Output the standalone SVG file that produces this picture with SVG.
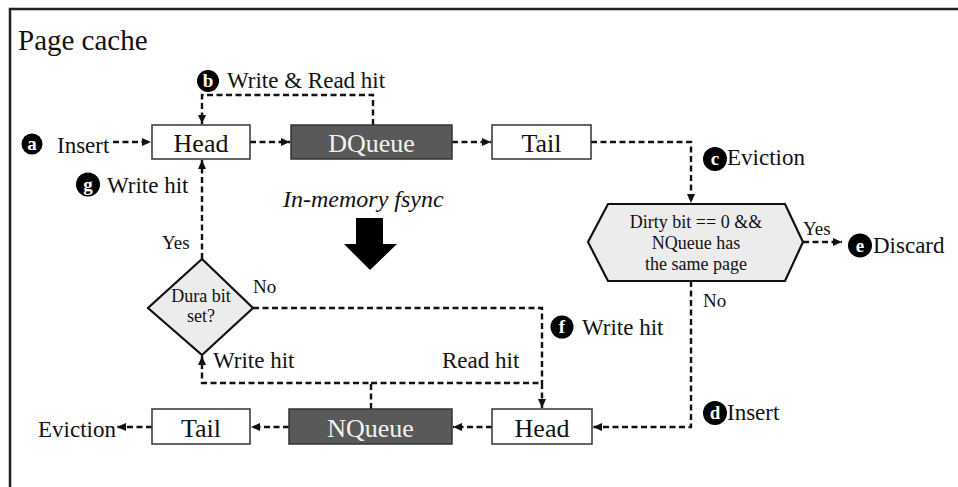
<svg xmlns="http://www.w3.org/2000/svg" width="958" height="487" viewBox="0 0 958 487">
<style>
text{font-family:"Liberation Serif","Times New Roman",serif;fill:#111}
.box{fill:#fff;stroke:#333;stroke-width:1.5}
.dark{fill:#595959;stroke:#333;stroke-width:1.5}
.cond{fill:#ececec;stroke:#111;stroke-width:2.2}
.bt{font-size:26px;text-anchor:middle}
.wt{fill:#f2f2f2}
.lbl{font-size:23px}
.sm{font-size:19px}
.ct{font-size:18px;text-anchor:middle}
.conn{fill:none;stroke:#111;stroke-width:2.4;stroke-dasharray:6 3.5}
.badge circle{fill:#000}
.badge text{fill:#fff;font-size:19px;font-weight:bold;text-anchor:middle}
</style>
<defs>
<marker id="ah" markerUnits="userSpaceOnUse" markerWidth="10" markerHeight="10" refX="9" refY="5" orient="auto">
<path d="M0,1 L9,5 L0,9 Z" fill="#111"/>
</marker>
</defs>
<rect x="0" y="0" width="958" height="487" fill="#fff"/>
<rect x="10" y="9" width="960" height="490" fill="none" stroke="#222" stroke-width="2.5"/>
<text x="18" y="50" style="font-size:29px">Page cache</text>

<g id="connectors">
<path class="conn" d="M113,142 H151" marker-end="url(#ah)"/>
<path class="conn" d="M250,142 H290" marker-end="url(#ah)"/>
<path class="conn" d="M452,142 H491" marker-end="url(#ah)"/>
<path class="conn" d="M591,142 H691 V203" marker-end="url(#ah)"/>
<path class="conn" d="M373,125 V95 H202 V124" marker-end="url(#ah)"/>
<path class="conn" d="M803,242 H842" marker-end="url(#ah)"/>
<path class="conn" d="M691,281 V427 H593" marker-end="url(#ah)"/>
<path class="conn" d="M492,427 H453" marker-end="url(#ah)"/>
<path class="conn" d="M289,427 H251" marker-end="url(#ah)"/>
<path class="conn" d="M152,427 H117" marker-end="url(#ah)"/>
<path class="conn" d="M371,409 V383 H202 V356" marker-end="url(#ah)"/>
<path class="conn" d="M371,383 H542 V408" marker-end="url(#ah)"/>
<path class="conn" d="M253,308 H542 V383"/>
<path class="conn" d="M202,259 V160" marker-end="url(#ah)"/>
</g>

<g id="head-d">
<rect class="box" x="152" y="125" width="98" height="34"/>
<text class="bt" x="201" y="152">Head</text>
</g>
<g id="dqueue">
<rect class="dark" x="291" y="125" width="161" height="34"/>
<text class="bt wt" x="371.5" y="152">DQueue</text>
</g>
<g id="tail-d">
<rect class="box" x="492" y="125" width="99" height="34"/>
<text class="bt" x="541.5" y="152">Tail</text>
</g>
<g id="evict-check">
<polygon class="cond" points="608,204 785,204 803,242 785,281 608,281 588,242"/>
<text class="ct" x="696" y="228">Dirty bit == 0 &amp;&amp;</text>
<text class="ct" x="696" y="249">NQueue has</text>
<text class="ct" x="696" y="270">the same page</text>
</g>
<g id="dura-check">
<polygon class="cond" points="202,259 253,308 202,355 148,308"/>
<text class="ct" x="201" y="302">Dura bit</text>
<text class="ct" x="201" y="322">set?</text>
</g>
<g id="head-n">
<rect class="box" x="492" y="409" width="100" height="35"/>
<text class="bt" x="542" y="437">Head</text>
</g>
<g id="nqueue">
<rect class="dark" x="289" y="409" width="163" height="35"/>
<text class="bt wt" x="370.5" y="437">NQueue</text>
</g>
<g id="tail-n">
<rect class="box" x="152" y="409" width="98" height="35"/>
<text class="bt" x="201" y="437">Tail</text>
</g>

<g id="fsync">
<text x="283" y="207" style="font-size:24px;font-style:italic">In-memory fsync</text>
<polygon points="356,218 383,218 383,244 397,244 370,270 344,244 356,244" fill="#000"/>
</g>

<g id="labels">
<g class="badge"><circle cx="32" cy="144" r="10.5"/><text x="32" y="150">a</text></g>
<text class="lbl" x="57" y="153">Insert</text>
<g class="badge"><circle cx="208" cy="81" r="11"/><text x="208" y="87">b</text></g>
<text class="lbl" x="227" y="88">Write &amp; Read hit</text>
<g class="badge"><circle cx="715" cy="159" r="12"/><text x="715" y="165">c</text></g>
<text class="lbl" x="727" y="165">Eviction</text>
<g class="badge"><circle cx="715" cy="413" r="12"/><text x="715" y="419">d</text></g>
<text class="lbl" x="727" y="420">Insert</text>
<g class="badge"><circle cx="860" cy="245.5" r="12"/><text x="860" y="251.5">e</text></g>
<text class="lbl" x="873" y="253">Discard</text>
<g class="badge"><circle cx="562" cy="327" r="11.5"/><text x="562" y="333">f</text></g>
<text class="lbl" x="582" y="335">Write hit</text>
<g class="badge"><circle cx="88" cy="184.5" r="12"/><text x="88" y="190.5">g</text></g>
<text class="lbl" x="107" y="193">Write hit</text>
<text class="sm" x="162" y="249">Yes</text>
<text class="sm" x="253" y="293">No</text>
<text class="sm" x="803" y="235">Yes</text>
<text class="sm" x="703" y="307">No</text>
<text class="lbl" x="213" y="368">Write hit</text>
<text class="lbl" x="442" y="368">Read hit</text>
<text class="lbl" x="38" y="437">Eviction</text>
</g>
</svg>
